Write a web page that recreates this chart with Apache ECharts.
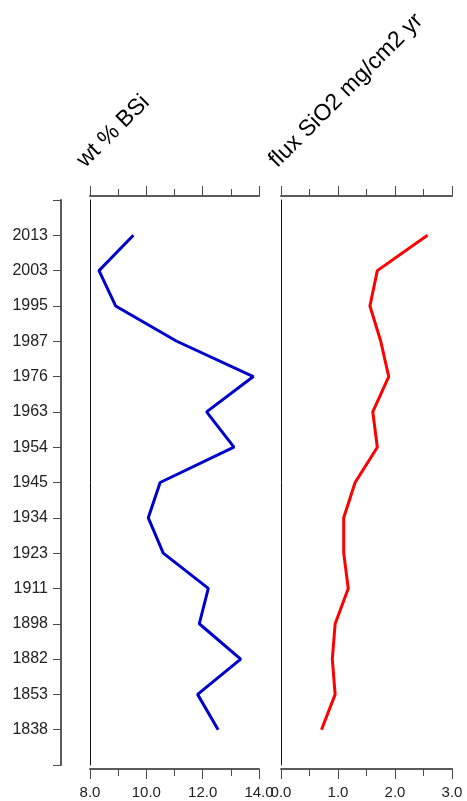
<!DOCTYPE html>
<html>
<head>
<meta charset="utf-8">
<script src="https://cdn.jsdelivr.net/npm/echarts@6/dist/echarts.min.js"></script>
<style>
html,body{margin:0;padding:0;background:#fff;}
#chart{width:467px;height:801px;}
</style>
</head>
<body>
<div id="chart"></div>
<script>
// Depth-axis labels (top to bottom)
const years = ['2013','2003','1995','1987','1976','1963','1954','1945','1934','1923','1911','1898','1882','1853','1838'];
// wt % BSi
const bsi = [9.54, 8.32, 8.91, 11.08, 13.80, 12.14, 13.11, 10.49, 10.07, 10.60, 12.20, 11.88, 13.35, 11.82, 12.55];
// flux SiO2 mg/cm2 yr
const flux = [2.57, 1.69, 1.56, 1.75, 1.89, 1.61, 1.69, 1.30, 1.10, 1.10, 1.18, 0.95, 0.90, 0.95, 0.71];
const titles = ['wt % BSi', 'flux SiO2 mg/cm2 yr'];

const FONT = '"Liberation Sans", Arial, sans-serif';
const AX = '#5a5a5a';
const TK = '#4a4a4a';
const TXT = '#222';

const chart = echarts.init(document.getElementById('chart'), null, {renderer: 'canvas'});

function depthAxis(gridIndex, showAll) {
  return {
    type: 'value', gridIndex: gridIndex, min: 0, max: years.length + 1, interval: 1, inverse: true,
    axisLine: {show: true, lineStyle: showAll ? {color: AX, width: 2} : {color: '#111', width: 1}},
    axisTick: {show: showAll, length: 8, lineStyle: {color: TK, width: 1}},
    axisLabel: {show: showAll, margin: 13, fontSize: 16, fontFamily: FONT, color: TXT,
      showMinLabel: true, showMaxLabel: true,
      formatter: function (v) { return years[v - 1] || ''; }},
    splitLine: {show: false}
  };
}

function valAxis(gridIndex, pos, min, max, showLabels) {
  return {
    type: 'value', gridIndex: gridIndex, position: pos, offset: 4,
    min: min, max: max, interval: (max - min > 4 ? 2 : 1),
    axisLine: {show: true, onZero: false, lineStyle: {color: AX, width: 2}},
    axisTick: {show: true, length: 10, lineStyle: {color: TK, width: 1}},
    minorTick: {show: true, splitNumber: 2, length: 7, lineStyle: {color: TK, width: 1}},
    axisLabel: {show: showLabels, margin: 16, fontSize: 15, fontFamily: FONT, color: TXT,
      showMinLabel: true, showMaxLabel: true,
      formatter: function (v) { return v.toFixed(1); }},
    splitLine: {show: false}, minorSplitLine: {show: false}
  };
}

const option = {
  backgroundColor: '#fff',
  animation: false,
  grid: [
    {left: 61, top: 200, width: 1, height: 565},
    {left: 90, top: 200, width: 169, height: 565},
    {left: 281, top: 200, width: 171, height: 565}
  ],
  xAxis: [
    {type: 'value', gridIndex: 0, show: false},
    valAxis(1, 'bottom', 8, 14, true),
    valAxis(1, 'top', 8, 14, false),
    valAxis(2, 'bottom', 0, 3, true),
    valAxis(2, 'top', 0, 3, false)
  ],
  yAxis: [
    depthAxis(0, true),
    depthAxis(1, false),
    depthAxis(2, false)
  ],
  graphic: [
    {type: 'text', x: 89, y: 172, rotation: Math.PI / 4,
      style: {text: titles[0], font: '23px ' + FONT, fill: '#000', align: 'left', verticalAlign: 'bottom'}},
    {type: 'text', x: 281, y: 172, rotation: Math.PI / 4,
      style: {text: titles[1], font: '23px ' + FONT, fill: '#000', align: 'left', verticalAlign: 'bottom'}}
  ],
  series: [
    {type: 'line', xAxisIndex: 1, yAxisIndex: 1, showSymbol: false, symbol: 'none',
      lineStyle: {color: '#0000CC', width: 3}, itemStyle: {color: '#0000CC'},
      data: years.map(function (y, i) { return [bsi[i], i + 1]; })},
    {type: 'line', xAxisIndex: 3, yAxisIndex: 2, showSymbol: false, symbol: 'none',
      lineStyle: {color: '#FF0000', width: 3}, itemStyle: {color: '#FF0000'},
      data: years.map(function (y, i) { return [flux[i], i + 1]; })}
  ]
};
chart.setOption(option);
</script>
</body>
</html>
